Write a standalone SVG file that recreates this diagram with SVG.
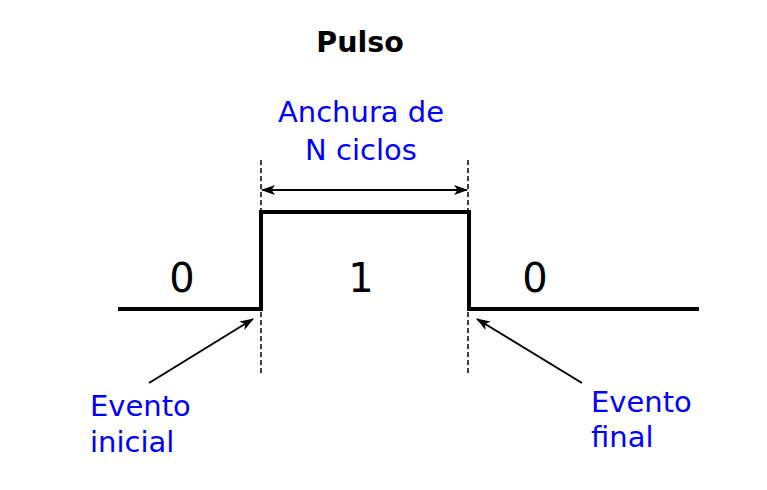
<svg xmlns="http://www.w3.org/2000/svg" width="767" height="490" viewBox="0 0 767 490">
<style>
text{font-family:"DejaVu Sans",sans-serif;}
.t{font-size:29px;fill:#0000ff;}
.d{font-size:40px;fill:#000;text-anchor:middle;}
.wave{fill:none;stroke:#000;stroke-width:4;}
.dash{stroke:#000;stroke-width:1.5;stroke-dasharray:5,3;fill:none;}
.arr{stroke:#000;stroke-width:2;fill:none;}
</style>
<defs>
<marker id="ah" viewBox="0 0 14 10" refX="13" refY="5" markerWidth="14" markerHeight="10" markerUnits="userSpaceOnUse" orient="auto-start-reverse">
<path d="M0,0 L14,5 L0,10 L3.5,5 Z" fill="#000"/>
</marker>
</defs>
<rect width="767" height="490" fill="#fff"/>
<text x="360" y="52" text-anchor="middle" style="font-size:28.5px;font-weight:bold">Pulso</text>
<g id="waveform">
<path class="wave" d="M118,309 H261 V212 H469 V309 H699"/>
</g>
<g id="labels">
<text class="t" x="361" y="122" text-anchor="middle">Anchura de</text>
<text class="t" x="361" y="160" text-anchor="middle">N ciclos</text>
<text class="d" x="182" y="292">0</text>
<text class="d" x="361" y="292">1</text>
<text class="d" x="535" y="292">0</text>
</g>
<g id="evento-inicial">
<text class="t" x="90" y="416">Evento</text>
<text class="t" x="90" y="452">inicial</text>
</g>
<g id="evento-final">
<text class="t" x="591" y="412">Evento</text>
<text class="t" x="591" y="447">final</text>
</g>
<g id="connectors">
<line class="dash" x1="261" y1="160" x2="261" y2="374"/>
<line class="dash" x1="468" y1="160" x2="468" y2="374"/>
<line class="arr" x1="262" y1="190" x2="467" y2="190" marker-start="url(#ah)" marker-end="url(#ah)"/>
<line class="arr" x1="149" y1="383" x2="253" y2="319" marker-end="url(#ah)"/>
<line class="arr" x1="582" y1="383" x2="477" y2="319" marker-end="url(#ah)"/>
</g>
</svg>
